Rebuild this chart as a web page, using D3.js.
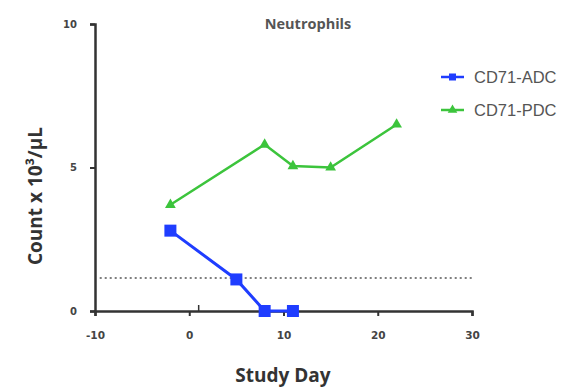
<!DOCTYPE html>
<html>
<head>
<meta charset="utf-8">
<script src="https://cdn.jsdelivr.net/npm/d3@7"></script>
<style>
  body { margin: 0; background: #fff; }
  svg { display: block; }
</style>
</head>
<body>
<div id="chart"></div>
<script>
// data
const adcDays = [-2, 5, 8, 11];
const adcCounts = [2.8, 1.1, 0, 0];
const pdcDays = [-2, 8, 11, 15, 22];
const pdcCounts = [3.7, 5.8, 5.05, 5.0, 6.5];
const seriesNames = ["CD71-ADC", "CD71-PDC"];
const xTicks = [-10, 0, 10, 20, 30];
const yTicks = [0, 5, 10];
const threshold = 1.15;

const width = 570, height = 387;

const svg = d3.select("#chart")
  .append("svg")
  .attr("width", width)
  .attr("height", height);

const x = d3.scaleLinear().domain([-10, 30]).range([95, 472]);
const y = d3.scaleLinear().domain([0, 10]).range([311, 24]);

const axisColor = "#333";
const tickFont = "'DejaVu Sans', sans-serif";

// y axis
const yAxis = svg.append("g")
  .attr("transform", `translate(${x(-10)},0)`)
  .call(d3.axisLeft(y).tickValues(yTicks).tickFormat(d => String(d)).tickSize(5).tickPadding(13));
yAxis.select(".domain").attr("stroke", axisColor).attr("stroke-width", 2.5);
yAxis.selectAll(".tick line").attr("stroke", axisColor).attr("stroke-width", 2);
yAxis.selectAll(".tick text")
  .attr("fill", "#444").attr("font-family", tickFont)
  .attr("font-weight", "bold").attr("font-size", 10);

// x axis
const xAxis = svg.append("g")
  .attr("transform", `translate(0,${y(0)})`)
  .call(d3.axisBottom(x).tickValues(xTicks).tickFormat(d => String(d)).tickSize(5).tickPadding(16));
xAxis.select(".domain").attr("stroke", axisColor).attr("stroke-width", 2.5);
xAxis.selectAll(".tick line").attr("stroke", axisColor).attr("stroke-width", 2);
xAxis.selectAll(".tick text")
  .attr("fill", "#444").attr("font-family", tickFont)
  .attr("font-weight", "bold").attr("font-size", 10.5);

// small upward tick at dosing day
svg.append("line")
  .attr("x1", x(1)).attr("x2", x(1))
  .attr("y1", y(0)).attr("y2", y(0) - 6)
  .attr("stroke", axisColor).attr("stroke-width", 1.5);

// dotted threshold line
svg.append("line")
  .attr("x1", x(-9.5)).attr("x2", x(30))
  .attr("y1", y(threshold)).attr("y2", y(threshold))
  .attr("stroke", "#555").attr("stroke-width", 1.3)
  .attr("stroke-dasharray", "2,3");

const line = d3.line().x(d => x(d[0])).y(d => y(d[1]));

const adc = adcDays.map((d, i) => [d, adcCounts[i]]);
const pdc = pdcDays.map((d, i) => [d, pdcCounts[i]]);

const blue = "#1f3dff";
const green = "#3cc43c";

// green series
svg.append("path")
  .datum(pdc)
  .attr("d", line)
  .attr("fill", "none")
  .attr("stroke", green)
  .attr("stroke-width", 2.5);
svg.selectAll(".pdc")
  .data(pdc)
  .enter()
  .append("path")
  .attr("class", "pdc")
  .attr("d", d3.symbol(d3.symbolTriangle, 50))
  .attr("transform", d => `translate(${x(d[0])},${y(d[1])})`)
  .attr("fill", green);

// blue series
svg.append("path")
  .datum(adc)
  .attr("d", line)
  .attr("fill", "none")
  .attr("stroke", blue)
  .attr("stroke-width", 3);
svg.selectAll(".adc")
  .data(adc)
  .enter()
  .append("rect")
  .attr("class", "adc")
  .attr("x", d => x(d[0]) - 6)
  .attr("y", d => y(d[1]) - 6)
  .attr("width", 12)
  .attr("height", 12)
  .attr("fill", blue);

// title
svg.append("text")
  .attr("x", 308).attr("y", 29)
  .attr("text-anchor", "middle")
  .attr("font-family", "'Open Sans', sans-serif")
  .attr("font-weight", "bold")
  .attr("font-size", 14.5)
  .attr("fill", "#555")
  .text("Neutrophils");

// axis titles
svg.append("text")
  .attr("x", 283).attr("y", 382)
  .attr("text-anchor", "middle")
  .attr("font-family", "'Open Sans', sans-serif")
  .attr("font-weight", "bold")
  .attr("font-size", 19)
  .attr("fill", "#333")
  .text("Study Day");

svg.append("text")
  .attr("transform", "translate(42,196) rotate(-90)")
  .attr("text-anchor", "middle")
  .attr("font-family", "'Open Sans', sans-serif")
  .attr("font-weight", "bold")
  .attr("font-size", 19)
  .attr("fill", "#333")
  .text("Count x 10³/µL");

// legend
const legend = svg.append("g");
const legendColors = [blue, green];
seriesNames.forEach((name, i) => {
  const ly = 77 + i * 33;
  legend.append("line")
    .attr("x1", 441).attr("x2", 464)
    .attr("y1", ly).attr("y2", ly)
    .attr("stroke", legendColors[i]).attr("stroke-width", 2.5);
  if (i === 0) {
    legend.append("rect")
      .attr("x", 449).attr("y", ly - 3.5)
      .attr("width", 7).attr("height", 7)
      .attr("fill", blue);
  } else {
    legend.append("path")
      .attr("d", d3.symbol(d3.symbolTriangle, 40))
      .attr("transform", `translate(452.5,${ly})`)
      .attr("fill", green);
  }
  legend.append("text")
    .attr("x", 474).attr("y", ly + 6)
    .attr("font-family", "'Liberation Sans', Arial, sans-serif")
    .attr("font-size", 16.5)
    .attr("fill", "#555")
    .text(name);
});
</script>
</body>
</html>
